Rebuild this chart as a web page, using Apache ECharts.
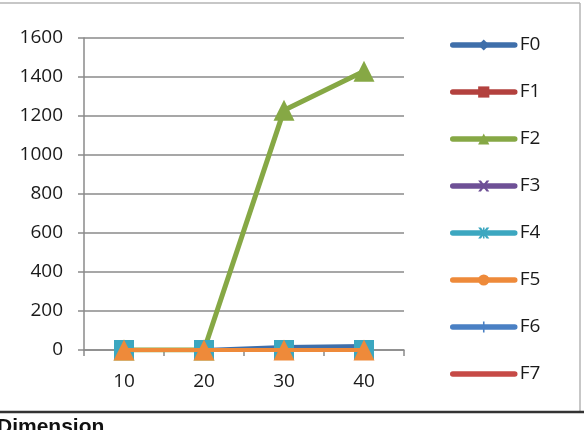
<!DOCTYPE html>
<html>
<head>
<meta charset="utf-8">
<script src="https://cdn.jsdelivr.net/npm/echarts@6/dist/echarts.min.js"></script>
<style>
  html, body { margin: 0; padding: 0; background: #fff; }
  #chart { width: 584px; height: 430px; }
</style>
</head>
<body>
<div id="chart"></div>
<script>
// categories / tick labels
const categories = ['10', '20', '30', '40']
const seriesNames = ['F0', 'F1', 'F2', 'F3', 'F4', 'F5', 'F6', 'F7']

// values
const f0 = [0, 0, 15, 20]
const f1 = [0, 0, 0, 0]
const f2 = [0, 0, 1230, 1430]
const f3 = [0, 0, 0, 0]
const f4 = [0, 0, 0, 0]
const f5 = [0, 0, 0, 0]
const f6 = [0, 0, 0, 0]
const f7 = [0, 0, 0, 0]
const seriesValues = [f0, f1, f2, f3, f4, f5, f6, f7]

// Excel 2007 palette
const COLORS = ['#3F6FAA', '#B3413E', '#86A845', '#6E5096', '#3CA7C0', '#EE8A3A', '#4A80C4', '#C64A46']

// legend markers (tiny corner dots keep a 10x10 box so thin shapes are not stretched)
const BOX = 'M0,0L0.05,0L0.05,0.05ZM9.95,9.95L10,9.95L10,10Z'
const X_PATH = 'path://M0,0L2.5,0L5,3.5L7.5,0L10,0L6.3,5L10,10L7.5,10L5,6.5L2.5,10L0,10L3.7,5Z'
const STAR_PATH = 'path://M0,0L2.5,0L5,3.5L7.5,0L10,0L6.3,5L10,10L7.5,10L5,6.5L2.5,10L0,10L3.7,5ZM4.3,0L5.7,0L5.7,10L4.3,10Z'
const BAR_PATH = 'path://' + BOX + 'M4.3,0L5.7,0L5.7,10L4.3,10Z'
const DASH_PATH = 'path://' + BOX + 'M1,4.2L9,4.2L9,5.8L1,5.8Z'
const LEGEND_SYMBOLS = ['diamond', 'rect', 'triangle', X_PATH, STAR_PATH, 'circle', BAR_PATH, DASH_PATH]
const LEGEND_SIZES = [10, 11, 11, 11, 11, 12, 13, 10]

// markers as they appear on the plot
const PLOT_SYMBOLS = ['diamond', 'rect', 'triangle', X_PATH, 'rect', 'triangle', BAR_PATH, 'none']
const PLOT_SIZES = [8, 8, 21, 8, 20, 21, 8, 0]
const PLOT_Z = [2, 2, 3, 2, 4, 5, 2, 2]
const LINE_W = [4, 4, 5, 4, 4, 4, 4, 4]

const FONT = 'Open Sans, Liberation Sans, sans-serif'

const chart = echarts.init(document.getElementById('chart'), null, { renderer: 'canvas' })

// legend-only series first so the legend takes their icons
const legendSeries = seriesNames.map((name, i) => ({
  name,
  type: 'line',
  data: [],
  symbol: LEGEND_SYMBOLS[i],
  symbolSize: LEGEND_SIZES[i],
  symbolKeepAspect: true,
  color: COLORS[i],
  lineStyle: { color: COLORS[i], width: 5 },
  itemStyle: { color: COLORS[i] },
}))

const dataSeries = seriesNames.map((name, i) => ({
  name,
  type: 'line',
  z: PLOT_Z[i],
  data: seriesValues[i],
  symbol: PLOT_SYMBOLS[i],
  symbolSize: PLOT_SIZES[i],
  symbolKeepAspect: true,
  showSymbol: PLOT_SYMBOLS[i] !== 'none',
  color: COLORS[i],
  lineStyle: { color: COLORS[i], width: LINE_W[i] },
  itemStyle: { color: COLORS[i] },
}))

chart.setOption({
  animation: false,
  backgroundColor: '#fff',
  textStyle: { fontFamily: FONT },
  grid: { left: 84, right: 180, top: 38, bottom: 80 },
  legend: {
    orient: 'vertical',
    left: 445,
    top: 30,
    itemWidth: 62,
    itemHeight: 14,
    itemGap: 27,
    lineStyle: { width: 5.5, cap: 'round' },
    textStyle: { fontSize: 19, lineHeight: 20, color: '#1a1a1a' },
    data: seriesNames,
  },
  xAxis: {
    type: 'category',
    data: categories,
    boundaryGap: true,
    axisLine: { lineStyle: { color: '#8a8a8a', width: 1.5 } },
    axisTick: { show: true, length: 6, lineStyle: { color: '#8a8a8a', width: 1.5 } },
    axisLabel: { color: '#1a1a1a', fontSize: 19, margin: 22 },
  },
  yAxis: {
    type: 'value',
    min: 0,
    max: 1600,
    interval: 200,
    axisLine: { show: true, lineStyle: { color: '#8a8a8a', width: 1.5 } },
    axisTick: { show: true, length: 6, lineStyle: { color: '#8a8a8a', width: 1.5 } },
    axisLabel: { color: '#1a1a1a', fontSize: 19, margin: 21, formatter: (v) => String(v) },
    splitLine: { lineStyle: { color: '#8a8a8a', width: 1.5 } },
  },
  series: legendSeries.concat(dataSeries),
  graphic: [
    // chart frame
    { type: 'line', shape: { x1: 0, y1: 3, x2: 580, y2: 3 }, style: { stroke: '#b5b5b5', lineWidth: 1.5 }, silent: true },
    { type: 'line', shape: { x1: 580, y1: 3, x2: 580, y2: 411 }, style: { stroke: '#b5b5b5', lineWidth: 1.5 }, silent: true },
    { type: 'line', shape: { x1: 0, y1: 412, x2: 584, y2: 412 }, style: { stroke: '#333', lineWidth: 2.5 }, silent: true },
    {
      type: 'text', left: -3, top: 417, silent: true,
      style: { text: 'Dimension', font: 'bold 21px Liberation Sans, Arial, sans-serif', fill: '#111' },
    },
  ],
})
</script>
</body>
</html>
